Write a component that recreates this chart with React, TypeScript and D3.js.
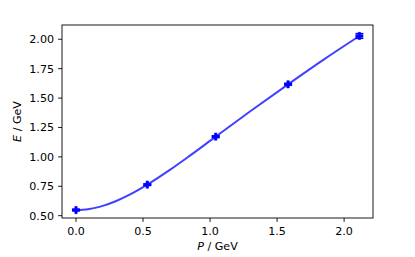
import React from "react";
import * as d3 from "d3";

// measured points (momentum, energy) with errors
const momenta = [0.0, 0.532, 1.042, 1.582, 2.114];
const energies = [0.548, 0.764, 1.172, 1.617, 2.028];
const energyErr = [0.006, 0.006, 0.007, 0.008, 0.02];

// fitted dispersion curve
const fitP = [0, 0.05, 0.1, 0.15, 0.2, 0.3, 0.4, 0.532, 0.7, 0.85, 1.042, 1.3, 1.582, 1.85, 2.114];
const fitE = [0.548, 0.5503, 0.557, 0.5683, 0.5834, 0.6247, 0.6785, 0.764, 0.889, 1.0106, 1.172, 1.3878, 1.617, 1.8293, 2.028];

const xTicks = [0.0, 0.5, 1.0, 1.5, 2.0];
const yTicks = [0.5, 0.75, 1.0, 1.25, 1.5, 1.75, 2.0];

const width = 415;
const height = 257;
const marginLeft = 62;
const marginRight = 42;
const marginTop = 25;
const marginBottom = 39;
const fontSize = 11.1;
const font = "DejaVu Sans, sans-serif";

export default function App() {
    const x = d3
        .scaleLinear()
        .domain([-0.1045, 2.2155])
        .range([marginLeft, width - marginRight]);
    const y = d3
        .scaleLinear()
        .domain([0.4803, 2.1213])
        .range([height - marginBottom, marginTop]);

    const fitLine = d3
        .line<number>()
        .x((d, i) => x(fitP[i]))
        .y((d) => y(d))
        .curve(d3.curveMonotoneX);

    const bottom = height - marginBottom;
    const right = width - marginRight;

    // filled plus marker
    const a = 3.6;
    const b = 1.2;
    const plus = `M${-a},${-b}H${-b}V${-a}H${b}V${-b}H${a}V${b}H${b}V${a}H${-b}V${b}H${-a}Z`;

    return (
        <svg
            width={width}
            height={height}
            style={{ position: "absolute", left: 0, top: 0, background: "#fff" }}
        >
            <path
                d={fitLine(fitE) || ""}
                fill="none"
                stroke="#0000ff"
                strokeOpacity={0.75}
                strokeWidth={2}
            />
            <g className="points" fill="#0000ff" stroke="#0000ff">
                {momenta.map((p, i) => {
                    const cx = x(p);
                    const cy = y(energies[i]);
                    const lo = y(energies[i] - energyErr[i]);
                    const hi = y(energies[i] + energyErr[i]);
                    return (
                        <g key={i}>
                            <line x1={cx} x2={cx} y1={lo} y2={hi} strokeWidth={1.5} />
                            <line x1={cx - 4} x2={cx + 4} y1={lo} y2={lo} strokeWidth={1.5} />
                            <line x1={cx - 4} x2={cx + 4} y1={hi} y2={hi} strokeWidth={1.5} />
                            <path d={plus} transform={`translate(${cx},${cy})`} strokeWidth={0.6} />
                        </g>
                    );
                })}
            </g>
            <rect
                x={marginLeft}
                y={marginTop}
                width={right - marginLeft}
                height={bottom - marginTop}
                fill="none"
                stroke="#000"
                strokeWidth={0.9}
            />
            <g className="x-axis" fontFamily={font} fontSize={fontSize}>
                {xTicks.map((t) => (
                    <g key={t}>
                        <line x1={x(t)} x2={x(t)} y1={bottom} y2={bottom + 3.9} stroke="#000" strokeWidth={0.9} />
                        <text x={x(t)} y={bottom + 17} textAnchor="middle">
                            {d3.format(".1f")(t)}
                        </text>
                    </g>
                ))}
                <text x={(marginLeft + right) / 2} y={250} textAnchor="middle">
                    <tspan fontStyle="italic">P</tspan> / GeV
                </text>
            </g>
            <g className="y-axis" fontFamily={font} fontSize={fontSize}>
                {yTicks.map((t) => (
                    <g key={t}>
                        <line x1={marginLeft - 3.9} x2={marginLeft} y1={y(t)} y2={y(t)} stroke="#000" strokeWidth={0.9} />
                        <text x={marginLeft - 8} y={y(t)} dy="0.36em" textAnchor="end">
                            {d3.format(".2f")(t)}
                        </text>
                    </g>
                ))}
                <text
                    transform={`translate(20.5,${(marginTop + bottom) / 2}) rotate(-90)`}
                    textAnchor="middle"
                >
                    <tspan fontStyle="italic">E</tspan> / GeV
                </text>
            </g>
        </svg>
    );
}
